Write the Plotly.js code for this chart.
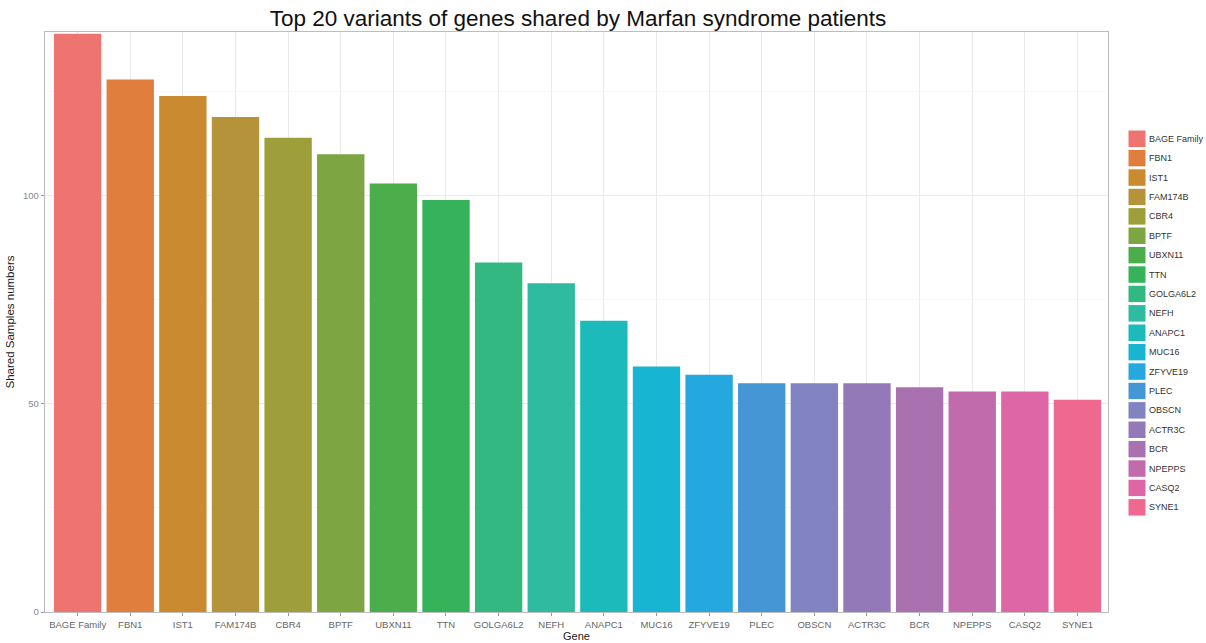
<!DOCTYPE html>
<html>
<head>
<meta charset="utf-8">
<script src="https://cdn.plot.ly/plotly-3.0.1.min.js"></script>
<style>html,body{margin:0;padding:0;background:#fff;}#chart{width:1206px;height:643px;}</style>
</head>
<body>
<div id="chart"></div>
<script>
var genes = ["BAGE Family","FBN1","IST1","FAM174B","CBR4","BPTF","UBXN11","TTN","GOLGA6L2","NEFH","ANAPC1","MUC16","ZFYVE19","PLEC","OBSCN","ACTR3C","BCR","NPEPPS","CASQ2","SYNE1"];
var counts = [139,128,124,119,114,110,103,99,84,79,70,59,57,55,55,55,54,53,53,51];
var colors = ["#EE7470","#E07E3E","#C98A30","#B4933A","#9E9F3A","#7DA643","#4BAE4A","#36B35A","#34B882","#2EBBA0","#1CBABA","#17B5D2","#25A8E0","#4596D4","#8284C2","#9479B8","#A971B0","#C26BAC","#DE66A6","#EF6890"];
var yTicks = [0,50,100];

var W = 1206, H = 643;
var L = 45, R = 98, T = 32, B = 31;
var pw = W - L - R, ph = H - T - B;

var traces = genes.map(function(g, i){
  return {
    type: 'bar', x: [g], y: [counts[i]], name: g,
    marker: {color: colors[i], line: {width: 0}},
    width: 0.9, showlegend: false, hoverinfo: 'x+y'
  };
});

// custom ggplot-like legend
var shapes = [], annotations = [];
var keyX0 = 1128, keyX1 = 1146, keyTop = 130, pitch = 19.4, keyH = 17.5;
function px2x(p){ return (p - L) / pw; }
function py2y(p){ return (H - B - p) / ph; }
genes.forEach(function(g, i){
  var top = keyTop + i * pitch;
  shapes.push({type:'rect', xref:'paper', yref:'paper',
    x0: px2x(keyX0), x1: px2x(keyX1), y0: py2y(top + keyH), y1: py2y(top),
    fillcolor: colors[i], line:{width:1, color:'#ffffff'}});
  annotations.push({xref:'paper', yref:'paper', x: px2x(keyX1 + 1), y: py2y(top + keyH/2),
    text: g, showarrow:false, xanchor:'left', yanchor:'middle',
    font:{family:'Liberation Sans, Arial, sans-serif', size:9, color:'#333333'}});
});

var layout = {
  width: W, height: H,
  margin: {l: L, r: R, t: T, b: B, pad: 0},
  paper_bgcolor: '#ffffff', plot_bgcolor: '#ffffff',
  title: {text: 'Top 20 variants of genes shared by Marfan syndrome patients',
    font: {family: 'Liberation Sans, Arial, sans-serif', size: 22.5, color: '#111111'},
    x: 578 / W, xanchor: 'center', y: 1 - 18 / H, yanchor: 'middle'},
  xaxis: {
    type: 'category', categoryorder: 'array', categoryarray: genes,
    range: [-0.62, 19.58], showgrid: true, gridcolor: '#EBEBEB', gridwidth: 1,
    showline: true, linecolor: '#BDBDBD', linewidth: 1.2, mirror: true,
    ticks: 'outside', ticklen: 3, tickcolor: '#999999', tickwidth: 1,
    tickfont: {family: 'Liberation Sans, Arial, sans-serif', size: 9.5, color: '#666666'},
    title: {text: 'Gene', standoff: 2,
      font: {family: 'Liberation Sans, Arial, sans-serif', size: 11, color: '#222222'}},
    zeroline: false, fixedrange: true
  },
  yaxis: {
    range: [0, 139.4], tickvals: yTicks, ticktext: yTicks.map(String),
    showgrid: true, gridcolor: '#EBEBEB', gridwidth: 1,
    minor: {tickvals: [25, 75, 125], showgrid: true, gridcolor: '#F4F4F4', gridwidth: 0.6},
    showline: true, linecolor: '#BDBDBD', linewidth: 1.2, mirror: true,
    ticks: 'outside', ticklen: 3, tickcolor: '#999999', tickwidth: 1,
    tickfont: {family: 'Liberation Sans, Arial, sans-serif', size: 9.5, color: '#888888'},
    title: {text: 'Shared Samples numbers', standoff: 6,
      font: {family: 'Liberation Sans, Arial, sans-serif', size: 11.5, color: '#222222'}},
    zeroline: false, fixedrange: true
  },
  bargap: 0.1,
  shapes: shapes,
  annotations: annotations,
  showlegend: false
};

Plotly.newPlot('chart', traces, layout, {displayModeBar: false, staticPlot: true});
</script>
</body>
</html>
